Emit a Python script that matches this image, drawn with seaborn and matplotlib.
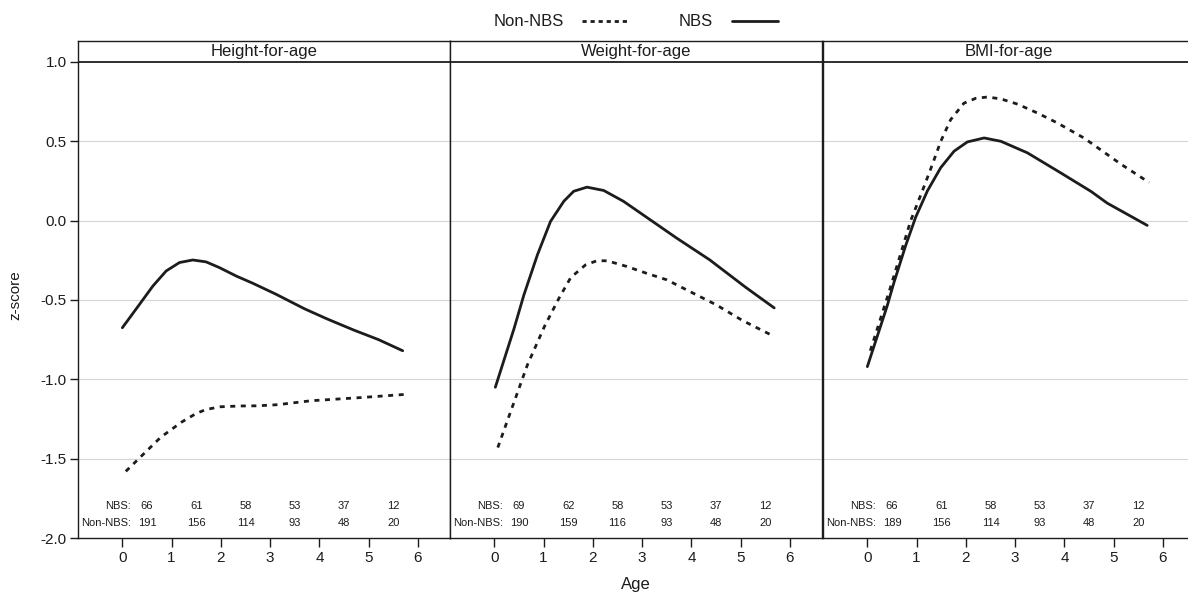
import matplotlib
matplotlib.use("Agg")
import matplotlib.pyplot as plt
import pandas as pd
import seaborn as sns
from matplotlib.lines import Line2D

sns.set_theme(style="white")
plt.rcParams["font.family"] = ["Liberation Sans", "DejaVu Sans"]
plt.rcParams["axes.unicode_minus"] = False

# ---- data -------------------------------------------------------------
panels = ["Height-for-age", "Weight-for-age", "BMI-for-age"]
groups = ["Non-NBS", "NBS"]

hfa_nbs_age = [0.00, 0.35, 0.62, 0.89, 1.16, 1.43, 1.70, 1.97, 2.31, 2.65, 3.12, 3.70, 4.16, 4.70, 5.20, 5.69]
hfa_nbs_z = [-0.675, -0.527, -0.412, -0.317, -0.264, -0.248, -0.26, -0.296, -0.349, -0.395, -0.464,
             -0.556, -0.62, -0.69, -0.75, -0.82]
hfa_non_age = [0.07, 0.40, 0.78, 1.20, 1.50, 1.70, 1.99, 2.40, 2.74, 3.15, 3.83, 4.84, 5.79]
hfa_non_z = [-1.58, -1.48, -1.365, -1.27, -1.215, -1.19, -1.173, -1.168, -1.167, -1.16, -1.135, -1.115, -1.094]

wfa_nbs_age = [0.02, 0.40, 0.60, 0.875, 1.14, 1.41, 1.61, 1.88, 2.22, 2.62, 3.16, 3.70, 4.37, 5.10, 5.68]
wfa_nbs_z = [-1.05, -0.68, -0.468, -0.215, -0.005, 0.122, 0.185, 0.211, 0.19, 0.122, 0.006, -0.11,
             -0.247, -0.42, -0.55]
wfa_non_age = [0.07, 0.30, 0.67, 1.02, 1.31, 1.55, 1.85, 2.08, 2.29, 2.69, 3.09, 3.50, 3.97, 4.50, 5.04, 5.68]
wfa_non_z = [-1.43, -1.23, -0.91, -0.665, -0.49, -0.359, -0.279, -0.253, -0.253, -0.289, -0.332, -0.373,
             -0.447, -0.53, -0.63, -0.73]

bfa_nbs_age = [0.00, 0.40, 0.54, 0.78, 0.98, 1.22, 1.49, 1.76, 2.03, 2.37, 2.71, 3.25, 3.93, 4.54, 4.87, 5.68]
bfa_nbs_z = [-0.92, -0.54, -0.39, -0.155, 0.021, 0.188, 0.334, 0.4375, 0.496, 0.521, 0.50, 0.427, 0.30,
             0.184, 0.11, -0.03]
bfa_non_age = [0.06, 0.47, 0.88, 1.12, 1.32, 1.49, 1.69, 1.96, 2.20, 2.44, 2.71, 3.05, 3.46, 3.86, 4.40, 5.15, 5.72]
bfa_non_z = [-0.82, -0.42, 0.0, 0.19, 0.354, 0.50, 0.636, 0.74, 0.771, 0.779, 0.767, 0.734, 0.677, 0.615,
             0.52, 0.355, 0.24]

count_ages = [0.5, 1.5, 2.5, 3.5, 4.5, 5.5]
hfa_n_nbs = [66, 61, 58, 53, 37, 12]
hfa_n_non = [191, 156, 114, 93, 48, 20]
wfa_n_nbs = [69, 62, 58, 53, 37, 12]
wfa_n_non = [190, 159, 116, 93, 48, 20]
bfa_n_nbs = [66, 61, 58, 53, 37, 12]
bfa_n_non = [189, 156, 114, 93, 48, 20]

x_ticks = [0, 1, 2, 3, 4, 5, 6]
y_ticks = [-2.0, -1.5, -1.0, -0.5, 0.0, 0.5, 1.0]
grid_levels = [-1.5, -1.0, -0.5, 0.0, 0.5]


def curve_frame(nbs_age, nbs_z, non_age, non_z):
    a = pd.DataFrame({"age": non_age, "z": non_z, "group": "Non-NBS"})
    b = pd.DataFrame({"age": nbs_age, "z": nbs_z, "group": "NBS"})
    return pd.concat([a, b], ignore_index=True)


curves = [
    curve_frame(hfa_nbs_age, hfa_nbs_z, hfa_non_age, hfa_non_z),
    curve_frame(wfa_nbs_age, wfa_nbs_z, wfa_non_age, wfa_non_z),
    curve_frame(bfa_nbs_age, bfa_nbs_z, bfa_non_age, bfa_non_z),
]
counts = [
    (hfa_n_nbs, hfa_n_non),
    (wfa_n_nbs, wfa_n_non),
    (bfa_n_nbs, bfa_n_non),
]

# ---- figure -----------------------------------------------------------
W, H = 1188, 594
fig = plt.figure(figsize=(W / 100, H / 100), dpi=100)

ink = "#1c1c1c"
dash_pattern = (1.8, 2.0)
lefts_px = [78, 450, 823]
panel_w_px = 372
bottom_px, top_px = 538, 41
xlim = (-0.9, 6.65)
ylim = (-2.0, 1.132)

for i, (name, df, (n_nbs, n_non)) in enumerate(zip(panels, curves, counts)):
    ax = fig.add_axes([lefts_px[i] / W, (H - bottom_px) / H,
                       panel_w_px / W, (bottom_px - top_px) / H])
    for lvl in grid_levels:
        ax.axhline(lvl, color="#d4d4d4", lw=0.8, zorder=0)
    sns.lineplot(data=df, x="age", y="z", style="group", style_order=groups,
                 dashes={"Non-NBS": dash_pattern, "NBS": ""},
                 color=ink, linewidth=2.0, estimator=None, sort=False,
                 legend=False, ax=ax)
    for line in ax.get_lines():
        line.set_solid_joinstyle("round")
        line.set_dash_joinstyle("round")
    # strip header
    ax.axhline(1.0, color=ink, lw=1.3, zorder=3)
    ax.text(0.5, (1.066 - ylim[0]) / (ylim[1] - ylim[0]), name,
            transform=ax.transAxes, ha="center", va="center",
            fontsize=12, color=ink)
    ax.set_xlim(*xlim)
    ax.set_ylim(*ylim)
    ax.set_xticks(x_ticks)
    ax.set_xticklabels([str(t) for t in x_ticks])
    ax.set_yticks(y_ticks)
    ax.set_xlabel("")
    ax.set_ylabel("")
    ax.tick_params(axis="x", direction="out", length=6.5, width=1.0,
                   color=ink, labelsize=11, labelcolor=ink, pad=3, bottom=True)
    if i == 0:
        ax.set_yticklabels([f"{t:.1f}" for t in y_ticks])
        ax.tick_params(axis="y", direction="out", length=6, width=1.0,
                       color=ink, labelsize=11, labelcolor=ink, pad=2, left=True)
    else:
        ax.tick_params(axis="y", left=False, labelleft=False)
    for sp in ax.spines.values():
        sp.set_color(ink)
        sp.set_linewidth(1.0)

    # sample sizes per year of age
    ax.text(0.18, -1.80, "NBS:", ha="right", va="center", fontsize=8, color=ink)
    ax.text(0.18, -1.905, "Non-NBS:", ha="right", va="center", fontsize=8, color=ink)
    for a, n1, n2 in zip(count_ages, n_nbs, n_non):
        ax.text(a, -1.80, str(n1), ha="center", va="center", fontsize=8, color=ink)
        ax.text(a, -1.905, str(n2), ha="center", va="center", fontsize=8, color=ink)

fig.text(15 / W, (H - 295) / H, "z-score", rotation=90, ha="center", va="center",
         fontsize=11, color=ink)
fig.text(636 / W, (H - 585) / H, "Age", ha="center", va="center",
         fontsize=12, color=ink)

handles = [Line2D([], [], color=ink, lw=2.0, dashes=(1.5, 1.4)),
           Line2D([], [], color=ink, lw=2.0)]
fig.legend(handles, groups, loc="center", bbox_to_anchor=(636 / W, (H - 22) / H),
           ncol=2, frameon=False, markerfirst=False, fontsize=12,
           handlelength=2.8, handletextpad=1.1, columnspacing=3.0,
           labelcolor=ink)

fig.savefig("out.png", dpi=100)
